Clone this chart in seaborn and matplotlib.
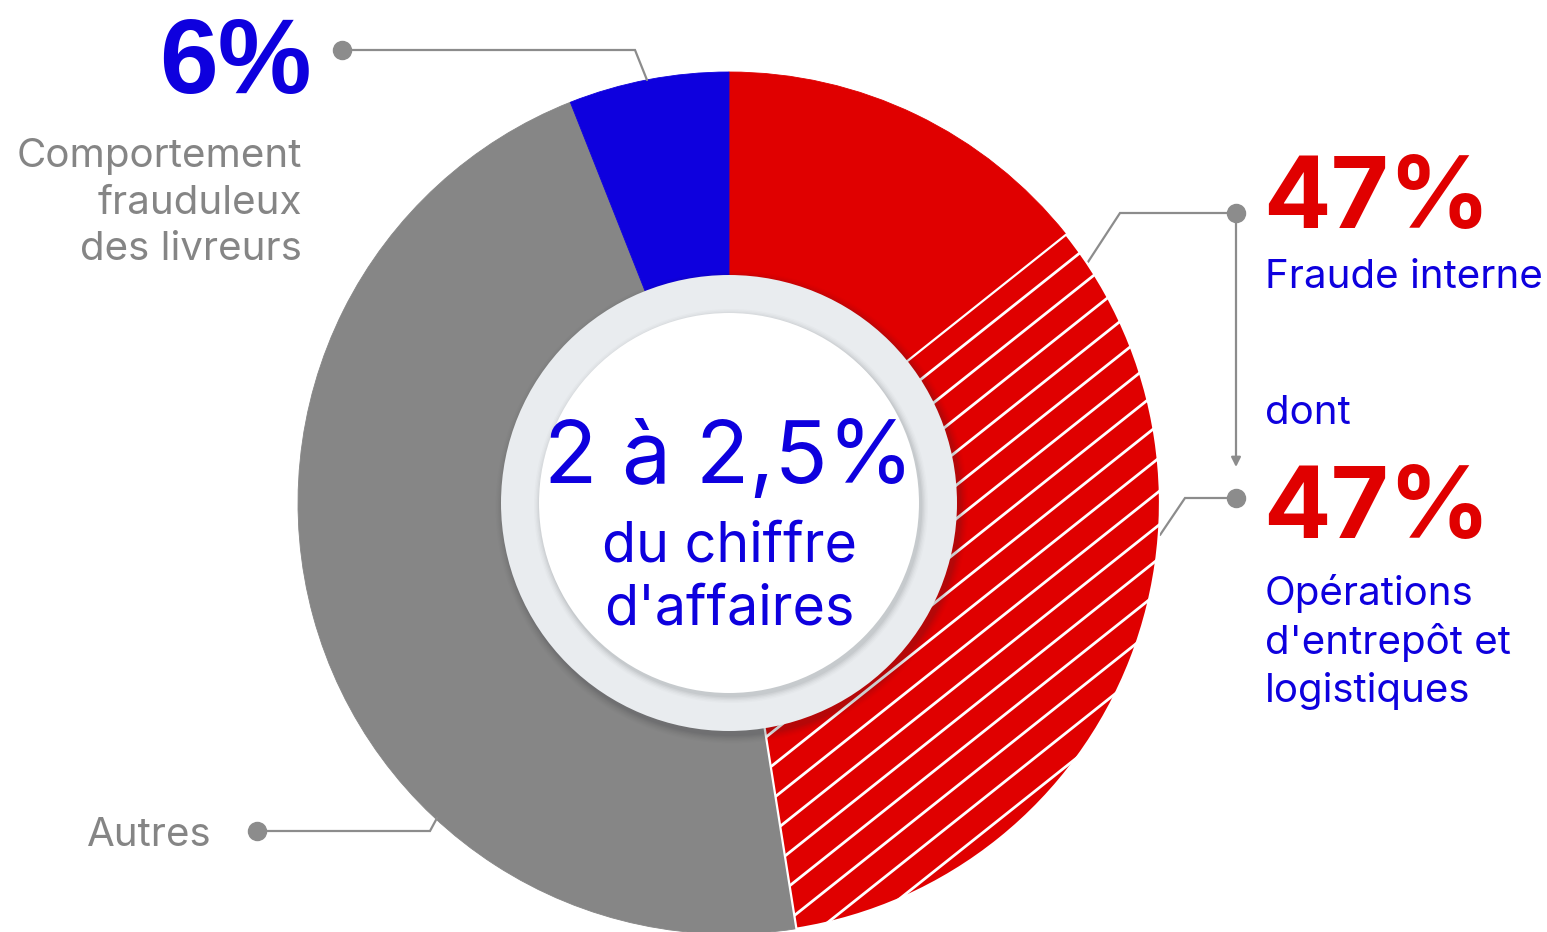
import numpy as np
import seaborn as sns
import matplotlib.pyplot as plt
from matplotlib.patches import Circle

# DATA (shares of the ring, clockwise from 12 o'clock)
segments = ["Fraude interne", "Opérations d'entrepôt et logistiques", "Autres", "Comportement frauduleux des livreurs"]
shares = [14.3, 33.2, 46.5, 6.0]
seg_colors = ["#e00000", "#e00000", "#868686", "#0e00de"]
center_big = "2 à 2,5%"
center_small = "du chiffre\nd'affaires"
pct_livreurs = "6%"
pct_fraude = "47%"
pct_entrepot = "47%"
lbl_livreurs = "Comportement\nfrauduleux\ndes livreurs"
lbl_fraude = "Fraude interne"
lbl_dont = "dont"
lbl_entrepot = "Opérations\nd'entrepôt et\nlogistiques"
lbl_autres = "Autres"

# SETTING
W, H = 1547, 932
BLUE = "#0e00de"
RED = "#e00000"
GREY_TXT = "#858585"
GREY_LINE = "#8c8c8c"
cx, cy = 729, H - 503
r_out, r_ring, r_white = 431, 228, 190

sns.set_theme(style="white")
plt.rcParams['font.family'] = ['Inter', 'DejaVu Sans']

fig = plt.figure(figsize=(W / 100, H / 100), dpi=100)
ax = fig.add_axes([0, 0, 1, 1])

wedges, _ = ax.pie(shares, colors=seg_colors, startangle=90, counterclock=False,
                   radius=r_out, center=(cx, cy),
                   wedgeprops=dict(width=r_out - r_ring + 2, linewidth=0.6))
for w, c in zip(wedges, seg_colors):
    w.set_edgecolor(c)

# hatched part of the red wedge
hatched = wedges[1]
hatched.set_edgecolor("white")
hatched.set_linewidth(1.6)
hatched.set_zorder(3)
slope = np.tan(np.radians(38.5))
xs = np.array([cx - 500, cx + 500])
for c in np.arange(-900, 900, 33.5):
    ln, = ax.plot(xs, cy + c + slope * (xs - cx), color="white", lw=2.0, zorder=4,
                  solid_capstyle="butt")
    ln.set_clip_path(hatched)

# centre disc: light ring with soft shadow, then white disc
for k, a in zip(range(14, 0, -2), [0.015, 0.02, 0.03, 0.035, 0.04, 0.05, 0.06]):
    ax.add_patch(Circle((cx + 3, cy - 4), r_ring + k * 0.6, color="#2a2f36", alpha=a, lw=0, zorder=5))
ax.add_patch(Circle((cx, cy), r_ring, color="#e9ecef", lw=0, zorder=6))
for k, a in zip(range(10, 0, -2), [0.03, 0.04, 0.06, 0.08, 0.09]):
    ax.add_patch(Circle((cx + 2, cy - 3), r_white + k * 0.7, color="#6b7178", alpha=a, lw=0, zorder=7))
ax.add_patch(Circle((cx, cy), r_white, color="white", lw=0, zorder=8))

ax.text(cx, H - 461, center_big, color=BLUE, fontsize=63, ha="center", va="center", zorder=9)
ax.text(cx, H - 578, center_small, color=BLUE, fontsize=40, ha="center", va="center",
        linespacing=1.27, zorder=9)

# leader lines
line_kw = dict(color=GREY_LINE, lw=1.6, zorder=2, solid_joinstyle="miter")
dot_kw = dict(marker="o", ms=13, color=GREY_LINE, zorder=2, ls="none")
ax.plot([342, 635, 647], [H - 50, H - 50, H - 80], **line_kw)
ax.plot([342], [H - 50], **dot_kw)
ax.plot([1236, 1120, 1088], [H - 213, H - 213, H - 262], **line_kw)
ax.plot([1236], [H - 213], **dot_kw)
ax.plot([1236, 1185, 1160], [H - 498, H - 498, H - 535], **line_kw)
ax.plot([1236], [H - 498], **dot_kw)
ax.plot([257, 430, 437], [H - 831, H - 831, H - 818], **line_kw)
ax.plot([257], [H - 831], **dot_kw)
ax.annotate("", xy=(1236, H - 467), xytext=(1236, H - 213),
            arrowprops=dict(arrowstyle="-|>", color=GREY_LINE, lw=1.6, mutation_scale=14,
                            shrinkA=0, shrinkB=0))

# annotations
ax.text(312, H - 93, pct_livreurs, color=BLUE, fontsize=76, fontweight="bold",
        family=["Liberation Sans", "DejaVu Sans"], ha="right", va="baseline")
ax.text(302, H - 203, lbl_livreurs, color=GREY_TXT, fontsize=29, ha="right", va="center",
        multialignment="right", linespacing=1.34)
ax.text(1263, H - 228, pct_fraude, color=RED, fontsize=72, fontweight="bold", ha="left", va="baseline")
ax.text(1265, H - 277, lbl_fraude, color=BLUE, fontsize=29, ha="left", va="center")
ax.text(1265, H - 413, lbl_dont, color=BLUE, fontsize=29, ha="left", va="center")
ax.text(1263, H - 538, pct_entrepot, color=RED, fontsize=72, fontweight="bold", ha="left", va="baseline")
ax.text(1265, H - 642, lbl_entrepot, color=BLUE, fontsize=29, ha="left", va="center",
        linespacing=1.34)
ax.text(212, H - 835, lbl_autres, color=GREY_TXT, fontsize=29, ha="right", va="center")

ax.set_xlim(0, W)
ax.set_ylim(0, H)
ax.set_aspect("equal")
ax.axis("off")

plt.savefig("out.png", dpi=100, facecolor="white")
plt.close()
